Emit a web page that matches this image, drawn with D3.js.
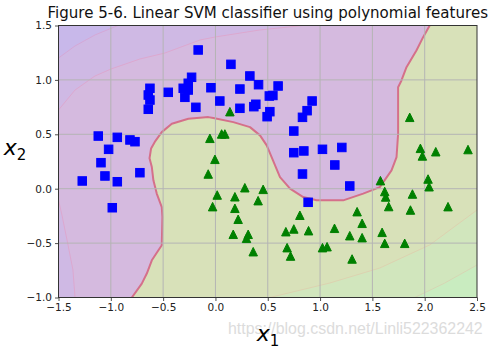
<!DOCTYPE html>
<html><head><meta charset="utf-8">
<script src="https://cdn.jsdelivr.net/npm/d3@7"></script>
<style>body{margin:0;background:#fff;}svg{display:block;}</style>
</head><body>
<svg id="chart" width="493" height="350"></svg>
<script>
// ---- data ----
const squaresX = [-0.165,-0.228,-0.260,-0.308,-0.260,-0.292,-0.451,-0.626,-0.642,-0.626,-0.642,-0.187,-0.043,-1.120,-0.938,-0.817,-0.769,-1.021,-1.094,-1.056,-1.273,-0.938,-0.986,-0.722,0.148,0.329,0.412,0.599,0.234,0.042,0.515,0.549,0.386,0.367,0.234,0.520,0.494,0.924,0.876,0.832,0.749,0.749,0.845,1.023,1.208,1.141,0.832,0.886,1.284];
const squaresY = [1.275,1.024,0.969,0.923,0.907,0.840,0.886,0.923,0.861,0.815,0.730,0.748,0.928,0.484,0.472,0.448,0.432,0.362,0.239,0.117,0.071,0.064,-0.175,0.147,1.143,1.036,0.956,0.944,0.916,0.806,0.852,0.857,0.776,0.754,0.739,0.708,0.662,0.806,0.717,0.656,0.530,0.331,0.347,0.362,0.379,0.218,0.135,-0.125,0.025];
const trianglesX = [0.138,-0.053,0.059,0.090,-0.005,-0.069,0.281,0.456,0.017,0.186,0.408,-0.027,0.186,0.217,0.807,0.170,0.313,0.297,0.673,0.749,0.890,1.138,0.361,0.685,0.718,1.023,1.067,1.857,1.959,1.978,2.106,2.414,1.577,2.032,2.042,1.618,1.627,1.883,1.656,1.864,2.223,1.354,1.402,1.284,1.402,1.593,1.618,1.809,1.306];
const trianglesY = [0.708,0.463,0.503,0.503,0.270,0.135,0.009,-0.006,-0.058,-0.074,-0.110,-0.165,-0.180,-0.281,-0.244,-0.419,-0.419,-0.456,-0.395,-0.370,-0.386,-0.364,-0.579,-0.542,-0.619,-0.542,-0.533,0.656,0.371,0.301,0.340,0.360,0.074,0.089,0.018,-0.026,-0.076,-0.049,-0.164,-0.196,-0.165,-0.211,-0.318,-0.432,-0.450,-0.401,-0.502,-0.502,-0.646];
const xTicks = [-1.5,-1.0,-0.5,0.0,0.5,1.0,1.5,2.0,2.5];
const yTicks = [-1.0,-0.5,0.0,0.5,1.0,1.5];
// decision boundary (predicted class change)
const boundaryX = [-0.799,-0.704,-0.656,-0.608,-0.545,-0.513,-0.507,-0.513,-0.561,-0.593,-0.608,-0.630,-0.615,-0.580,-0.513,-0.417,-0.259,-0.068,-0.020,0.171,0.330,0.426,0.490,0.537,0.617,0.713,0.839,0.967,1.125,1.221,1.412,1.571,1.683,1.731,1.746,1.746,1.778,1.826,1.921,1.985,2.048];
const boundaryY = [-1.0,-0.872,-0.780,-0.658,-0.566,-0.520,-0.260,-0.169,-0.045,0.077,0.199,0.280,0.370,0.430,0.520,0.597,0.643,0.658,0.649,0.612,0.566,0.490,0.398,0.291,0.107,0.000,-0.077,-0.107,-0.107,-0.107,-0.045,0.015,0.169,0.291,0.506,0.933,0.995,1.117,1.270,1.393,1.5];
// faint decision-function level curves
const levelAX = [-1.5,-1.342,-1.151,-0.932];
const levelAY = [1.201,1.312,1.413,1.5];
const levelBTopX = [-1.5,-1.342,-1.151,-0.999,-0.722,-0.483,-0.147,-0.005,0.425,0.835];
const levelBTopY = [0.723,0.907,1.036,1.100,1.192,1.247,1.367,1.394,1.459,1.5];
const levelBLowX = [-1.5,-1.467,-1.409,-1.362,-1.342];
const levelBLowY = [-0.104,-0.242,-0.517,-0.747,-1.0];
const levelCX = [0.520,1.093,1.571,2.048,2.5];
const levelCY = [-1.0,-0.867,-0.729,-0.517,-0.196];
const levelDX = [1.905,2.192,2.5];
const levelDY = [-1.0,-0.867,-0.701];
const titleText = "Figure 5-6. Linear SVM classifier using polynomial features";
const watermarkText = "https://blog.csdn.net/Linli522362242";

// ---- drawing ----
const svg = d3.select("#chart");
const L = 58.5, R = 477, T = 25.5, B = 297.5;
const x = d3.scaleLinear().domain([-1.5, 2.5]).range([L, R]);
const y = d3.scaleLinear().domain([-1, 1.5]).range([B, T]);
const zip = (xs, ys) => xs.map((v, i) => [v, ys[i]]);
const line = d3.line().x(d => x(d[0])).y(d => y(d[1]));

svg.append("defs").append("clipPath").attr("id", "clip")
  .append("rect").attr("x", L).attr("y", T).attr("width", R - L).attr("height", B - T);
const plot = svg.append("g").attr("clip-path", "url(#clip)");

// purple (class 0) background
plot.append("rect").attr("x", L).attr("y", T).attr("width", R - L).attr("height", B - T).attr("fill", "#d5badf");
// bands in purple region
plot.append("path").attr("d", line([[-1.5, 1.5], ...zip(levelBTopX, levelBTopY)]) + "Z").attr("fill", "#cfb9e4");
plot.append("path").attr("d", line([[-1.5, -1], ...zip(levelBLowX, levelBLowY)]) + "Z").attr("fill", "#cfb9e4");
plot.append("path").attr("d", line([[-1.5, 1.5], ...zip(levelAX, levelAY)]) + "Z").attr("fill", "#c8b8ea");
// green (class 1) region
const bnd = zip(boundaryX, boundaryY);
plot.append("path").attr("d", line([...bnd, [2.5, 1.5], [2.5, -1]]) + "Z").attr("fill", "#d8e1b9");
plot.append("path").attr("d", line([[2.5, -1], ...zip(levelCX, levelCY)]) + "Z").attr("fill", "#d1e6bd");
plot.append("path").attr("d", line([[2.5, -1], ...zip(levelDX, levelDY)]) + "Z").attr("fill", "#c9ecc0");
// faint level lines
[[levelAX, levelAY, "#d4a8d6"], [levelBTopX, levelBTopY, "#dca8cf"], [levelBLowX, levelBLowY, "#dca8cf"],
 [levelCX, levelCY, "#dcd2b0"], [levelDX, levelDY, "#d6d6b4"]].forEach(([xs, ys, c]) => {
  plot.append("path").attr("d", line(zip(xs, ys))).attr("fill", "none").attr("stroke", c).attr("stroke-width", 1);
});

// grid
const grid = svg.append("g");
grid.selectAll(".gx").data(xTicks.slice(1, -1)).join("line")
  .attr("x1", d => x(d)).attr("x2", d => x(d)).attr("y1", T).attr("y2", B)
  .attr("stroke", "#b4b4b4").attr("stroke-width", 1);
grid.selectAll(".gy").data(yTicks.slice(1, -1)).join("line")
  .attr("y1", d => y(d)).attr("y2", d => y(d)).attr("x1", L).attr("x2", R)
  .attr("stroke", "#b4b4b4").attr("stroke-width", 1);

// decision boundary
plot.append("path").attr("d", line(bnd)).attr("fill", "none")
  .attr("stroke", "#d5708a").attr("stroke-width", 2).attr("stroke-linejoin", "round");

// markers
const S = 8.5;
svg.append("g").selectAll("rect").data(zip(squaresX, squaresY)).join("rect")
  .attr("x", d => x(d[0]) - S / 2).attr("y", d => y(d[1]) - S / 2)
  .attr("width", S).attr("height", S)
  .attr("fill", "#0000ff").attr("stroke", "#0000ff").attr("stroke-width", 1);
svg.append("g").selectAll("path").data(zip(trianglesX, trianglesY)).join("path")
  .attr("d", d => {
    const cx = x(d[0]), cy = y(d[1]), h = S / 2;
    return `M${cx},${cy - h}L${cx - h},${cy + h}L${cx + h},${cy + h}Z`;
  })
  .attr("fill", "#008000").attr("stroke", "#008000").attr("stroke-width", 1).attr("stroke-linejoin", "miter");

// axes
const fmt = d3.format(".1f");
const xAxis = svg.append("g").attr("transform", `translate(0,${B})`)
  .call(d3.axisBottom(x).tickValues(xTicks).tickFormat(fmt).tickSize(3.5).tickPadding(3));
const yAxis = svg.append("g").attr("transform", `translate(${L},0)`)
  .call(d3.axisLeft(y).tickValues(yTicks).tickFormat(fmt).tickSize(3.5).tickPadding(3));
[xAxis, yAxis].forEach(a => {
  a.select(".domain").remove();
  a.selectAll("line").attr("stroke", "#222").attr("stroke-width", 0.8);
  a.selectAll("text").attr("font-family", "DejaVu Sans").attr("font-size", 10.5).attr("fill", "#222");
});
svg.append("rect").attr("x", L).attr("y", T).attr("width", R - L).attr("height", B - T)
  .attr("fill", "none").attr("stroke", "#333").attr("stroke-width", 1);

// title, fitted to the reference width
const title = svg.append("text").attr("x", (L + R) / 2).attr("y", 18).attr("text-anchor", "middle")
  .attr("font-family", "DejaVu Sans").attr("font-size", 12).attr("fill", "#111").text(titleText);
const tw = title.node().getComputedTextLength();
title.attr("font-size", 12 * 441 / tw);

// watermark
const wm = svg.append("text").attr("x", 228).attr("y", 334).attr("font-family", "Liberation Sans, Arial")
  .attr("font-size", 15).attr("fill", "#dcdcdc").text(watermarkText);
const ww = wm.node().getComputedTextLength();
wm.attr("font-size", 15 * 255 / ww);

// axis labels (math italic)
const xl = svg.append("text").attr("x", 268).attr("y", 341).attr("text-anchor", "middle")
  .attr("font-family", "DejaVu Sans").attr("fill", "#000");
xl.append("tspan").attr("font-style", "oblique").attr("font-size", 22).text("x");
xl.append("tspan").attr("font-size", 15).attr("dy", 5).text("1");
const yl = svg.append("text").attr("x", 15).attr("y", 155).attr("text-anchor", "middle")
  .attr("font-family", "DejaVu Sans").attr("fill", "#000");
yl.append("tspan").attr("font-style", "oblique").attr("font-size", 22).text("x");
yl.append("tspan").attr("font-size", 15).attr("dy", 5).text("2");
</script>
</body></html>
